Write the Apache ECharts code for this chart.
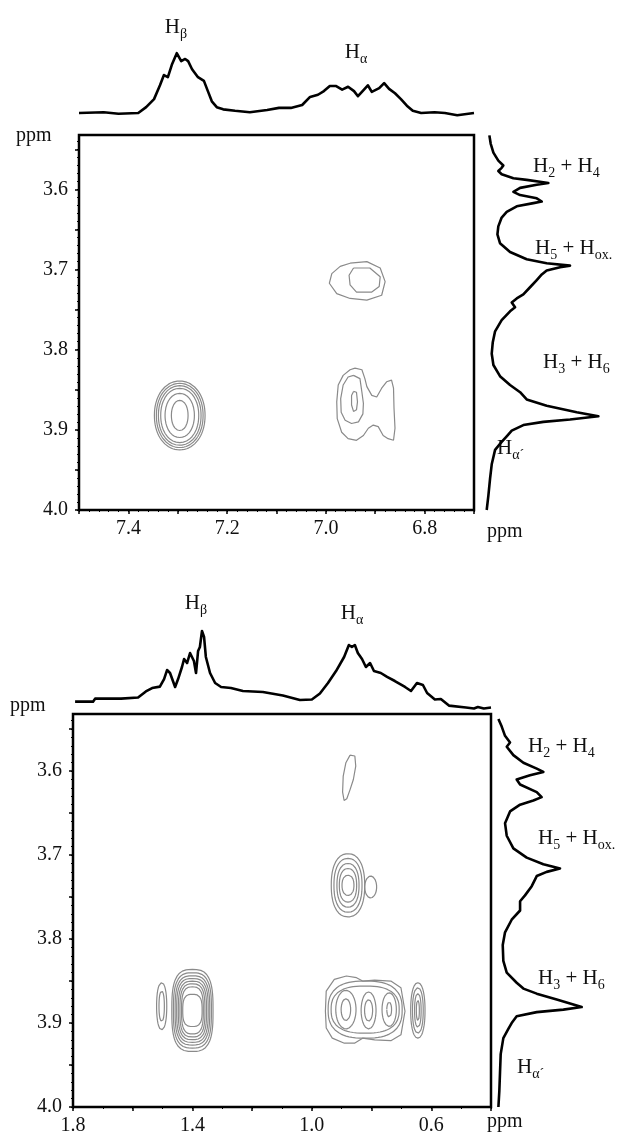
<!DOCTYPE html>
<html><head><meta charset="utf-8">
<script src="https://cdn.jsdelivr.net/npm/echarts@6/dist/echarts.min.js"></script>
<style>html,body{margin:0;padding:0;background:#fff}#c{width:632px;height:1145px}</style>
</head><body><div id="c"></div>
<script>
// ================= DATA =================
// tick labels
const topXLabels = [7.4, 7.2, 7.0, 6.8];
const topXTicks = [6.7, 6.8, 6.9, 7.0, 7.1, 7.2, 7.3, 7.4, 7.5];
const botXLabels = [1.8, 1.4, 1.0, 0.6];
const botXTicks = [0.4, 0.6, 0.8, 1.0, 1.2, 1.4, 1.6, 1.8];
const yLabels = [3.6, 3.7, 3.8, 3.9, 4.0];
const yTicks = [3.55, 3.6, 3.65, 3.7, 3.75, 3.8, 3.85, 3.9, 3.95, 4.0];

// top panel: 1D projection along F2 (ppm, intensity)
const topProjX = [[7.500,0.00],[7.450,0.01],[7.420,-0.01],[7.380,0.00],[7.364,0.08],[7.348,0.19],[7.336,0.38],[7.328,0.52],[7.320,0.49],[7.312,0.66],[7.302,0.82],[7.293,0.71],[7.285,0.74],[7.279,0.71],[7.271,0.60],[7.259,0.49],[7.247,0.44],[7.239,0.30],[7.231,0.16],[7.221,0.08],[7.208,0.05],[7.184,0.03],[7.154,0.01],[7.119,0.04],[7.095,0.07],[7.071,0.07],[7.048,0.11],[7.032,0.22],[7.016,0.25],[7.004,0.30],[6.992,0.37],[6.980,0.37],[6.967,0.32],[6.955,0.36],[6.943,0.30],[6.935,0.23],[6.927,0.29],[6.915,0.38],[6.907,0.29],[6.892,0.34],[6.882,0.41],[6.872,0.33],[6.860,0.27],[6.848,0.19],[6.836,0.10],[6.824,0.03],[6.807,0.00],[6.780,0.01],[6.759,0.00],[6.734,-0.03],[6.700,0.00]];
// top panel: 1D projection along F1 (ppm, intensity)
const topProjY = [[3.5325,0.024],[3.543,0.036],[3.554,0.06],[3.564,0.104],[3.570,0.149],[3.573,0.134],[3.577,0.104],[3.581,0.134],[3.586,0.239],[3.588,0.358],[3.591,0.507],[3.592,0.552],[3.594,0.448],[3.598,0.299],[3.603,0.239],[3.607,0.299],[3.611,0.448],[3.615,0.493],[3.617,0.418],[3.621,0.269],[3.628,0.179],[3.635,0.134],[3.646,0.104],[3.656,0.096],[3.667,0.119],[3.678,0.209],[3.687,0.358],[3.692,0.537],[3.695,0.746],[3.697,0.657],[3.701,0.537],[3.706,0.493],[3.713,0.448],[3.722,0.388],[3.731,0.328],[3.736,0.269],[3.741,0.224],[3.747,0.254],[3.752,0.209],[3.763,0.134],[3.777,0.075],[3.791,0.054],[3.805,0.045],[3.819,0.06],[3.833,0.119],[3.844,0.209],[3.853,0.299],[3.862,0.358],[3.870,0.537],[3.878,0.806],[3.883,1.0],[3.887,0.746],[3.890,0.507],[3.894,0.328],[3.901,0.224],[3.908,0.179],[3.915,0.134],[3.925,0.075],[3.943,0.045],[3.961,0.03],[3.982,0.015],[4.0,0.0]];

// bottom panel projections
const botProjX = [[1.793,0.093],[1.733,0.093],[1.726,0.126],[1.639,0.126],[1.582,0.139],[1.556,0.206],[1.535,0.244],[1.509,0.26],[1.495,0.344],[1.485,0.444],[1.475,0.411],[1.458,0.256],[1.448,0.344],[1.435,0.478],[1.428,0.567],[1.418,0.522],[1.408,0.633],[1.395,0.544],[1.388,0.411],[1.381,0.656],[1.375,0.70],[1.368,0.878],[1.361,0.811],[1.355,0.589],[1.341,0.411],[1.324,0.30],[1.304,0.256],[1.271,0.244],[1.231,0.211],[1.164,0.20],[1.097,0.161],[1.040,0.111],[1.000,0.117],[0.973,0.183],[0.946,0.30],[0.919,0.433],[0.892,0.589],[0.876,0.722],[0.866,0.70],[0.856,0.722],[0.846,0.633],[0.832,0.567],[0.819,0.478],[0.805,0.522],[0.792,0.433],[0.769,0.411],[0.748,0.367],[0.722,0.322],[0.688,0.256],[0.668,0.211],[0.648,0.30],[0.628,0.278],[0.614,0.189],[0.588,0.117],[0.568,0.122],[0.541,0.049],[0.484,0.027],[0.457,0.017],[0.444,0.033],[0.424,0.017],[0.400,0.027]];
const botProjY = [[3.538,0.02],[3.547,0.059],[3.558,0.098],[3.566,0.157],[3.571,0.118],[3.581,0.196],[3.590,0.314],[3.597,0.471],[3.601,0.549],[3.605,0.392],[3.610,0.235],[3.616,0.275],[3.625,0.471],[3.631,0.529],[3.635,0.431],[3.640,0.275],[3.648,0.157],[3.662,0.098],[3.677,0.118],[3.692,0.196],[3.703,0.353],[3.711,0.549],[3.716,0.745],[3.720,0.588],[3.725,0.471],[3.737,0.412],[3.748,0.333],[3.755,0.275],[3.766,0.275],[3.777,0.176],[3.792,0.098],[3.807,0.071],[3.826,0.078],[3.840,0.118],[3.852,0.235],[3.859,0.314],[3.865,0.471],[3.872,0.706],[3.881,1.0],[3.884,0.784],[3.887,0.471],[3.892,0.235],[3.900,0.176],[3.907,0.137],[3.918,0.078],[3.937,0.047],[3.959,0.039],[3.981,0.031],[4.0,0.02]];

// ---- contour levels (ppm) ----
const topPeakA = {c:[7.296,3.882], rx:[0.0513,0.0473,0.0432,0.0385,0.0297,0.0169], ry:[0.0429,0.0400,0.0371,0.0338,0.0275,0.0188], p:2.1};
const topPeakBOuter = [[6.951,3.692],[6.917,3.690],[6.890,3.698],[6.880,3.715],[6.887,3.732],[6.917,3.738],[6.951,3.736],[6.978,3.730],[6.993,3.717],[6.988,3.705],[6.971,3.696]];
const topPeakBInner = [[6.944,3.698],[6.911,3.698],[6.890,3.709],[6.892,3.721],[6.907,3.728],[6.938,3.728],[6.951,3.719],[6.953,3.707]];
const topPeakCOuter = [[6.941,3.823],[6.927,3.825],[6.921,3.836],[6.917,3.846],[6.907,3.857],[6.897,3.859],[6.887,3.848],[6.877,3.840],[6.867,3.838],[6.863,3.848],[6.862,3.873],[6.860,3.898],[6.863,3.913],[6.874,3.911],[6.884,3.907],[6.894,3.896],[6.904,3.894],[6.914,3.898],[6.924,3.907],[6.938,3.913],[6.955,3.911],[6.968,3.903],[6.977,3.886],[6.978,3.865],[6.975,3.844],[6.965,3.832],[6.951,3.825]];
const topPeakCMid = [[6.944,3.832],[6.931,3.836],[6.927,3.853],[6.924,3.867],[6.925,3.880],[6.934,3.890],[6.948,3.892],[6.961,3.888],[6.969,3.878],[6.970,3.861],[6.965,3.844],[6.955,3.834]];
const topPeakCInner = [[6.944,3.852],[6.938,3.853],[6.936,3.865],[6.938,3.875],[6.944,3.877],[6.948,3.869],[6.948,3.857]];

const botPeakThin = [[0.872,3.581],[0.856,3.582],[0.853,3.594],[0.861,3.610],[0.872,3.622],[0.883,3.633],[0.892,3.635],[0.897,3.625],[0.895,3.606],[0.886,3.590]];
const botPeakMid = {c:[0.879,3.736], rx:[0.056,0.047,0.037,0.029,0.020], ry:[0.0376,0.032,0.026,0.020,0.012], p:2.3};
const botPeakMidLobe = {c:[0.803,3.738], rx:[0.020], ry:[0.013], p:2};
const botPeakLeftSmall = {c:[1.503,3.880], rx:[0.017,0.009], ry:[0.028,0.018], p:2.2};
const botPeakBarrel = {c:[1.400,3.885], rx:[0.069,0.0636,0.058,0.0528,0.0473,0.0419,0.0365,0.0325], ry:[0.0488,0.0448,0.0412,0.038,0.0348,0.0316,0.028,0.0192], p:3};
const botPeakMergedOuter = [[0.9546,3.886],[0.9519,3.862],[0.9248,3.848],[0.8842,3.844],[0.8504,3.846],[0.8301,3.850],[0.7895,3.849],[0.7354,3.850],[0.7016,3.858],[0.6881,3.886],[0.7016,3.914],[0.7354,3.921],[0.7895,3.920],[0.8301,3.918],[0.8572,3.924],[0.8910,3.924],[0.9316,3.918],[0.9519,3.906]];
const botPeakMerged = {c:[0.8215,3.884], rx:[0.124,0.114], ry:[0.034,0.028], p:2.6};
const botPeakMergedL = {c:[0.886,3.884], rx:[0.034,0.016], ry:[0.023,0.013], p:2};
const botPeakMergedM = {c:[0.810,3.885], rx:[0.025,0.0135], ry:[0.022,0.0128], p:2};
const botPeakMergedR = {c:[0.741,3.884], rx:[0.024,0.008], ry:[0.020,0.009], p:2};
const botPeakFarRight = {c:[0.645,3.885], rx:[0.024,0.018,0.011,0.005], ry:[0.033,0.027,0.020,0.012], p:2.2};

// ================= CHART =================
const FONT = 'Liberation Serif';
const INK = '#111';
const CONTOUR = '#8a8a8a';

function ringPts(c, rx, ry, p, n) {
  const pts = []; const e = 2 / p;
  for (let i = 0; i <= n; i++) {
    const t = 2 * Math.PI * i / n, ct = Math.cos(t), st = Math.sin(t);
    pts.push([c[0] + rx * Math.sign(ct) * Math.pow(Math.abs(ct), e),
              c[1] + ry * Math.sign(st) * Math.pow(Math.abs(st), e)]);
  }
  return pts;
}
const closed = l => l.concat([l[0]]);
function contour(pts, ax, smooth) {
  return {type:'line', xAxisIndex:ax, yAxisIndex:ax, data:pts, symbol:'none', showSymbol:false, smooth: smooth || false,
    lineStyle:{color:CONTOUR, width:1.2}, silent:true, z:3};
}
function peakSeries(pk, ax) {
  return pk.rx.map((r, i) => contour(ringPts(pk.c, r, pk.ry[i], pk.p, 72), ax));
}
function proj(data, xi, yi, swap) {
  return {type:'line', xAxisIndex:xi, yAxisIndex:yi, data: swap ? data.map(d => [d[1], d[0]]) : data,
    symbol:'none', showSymbol:false, lineStyle:{color:'#000', width:2.6, join:'round'}, silent:true, z:4};
}
const fmt = v => Number(v).toFixed(1);
const range = (a, b, s) => { const r = []; for (let v = a; v <= b + 1e-9; v += s) r.push(Number(v.toFixed(3))); return r; };

function mainX(grid, min, max, ticks, labels) {
  return {type:'value', gridIndex:grid, min, max, inverse:true, position:'bottom',
    axisLine:{show:true, onZero:false, lineStyle:{color:'#000', width:2}},
    axisTick:{show:true, length:4, customValues:ticks, lineStyle:{color:'#000', width:1.5}},
    axisLabel:{show:true, customValues:labels, formatter:fmt, margin:9, color:INK, fontFamily:FONT, fontSize:20},
    splitLine:{show:false}};
}
function minorX(grid, min, max, ticks) {
  return {type:'value', gridIndex:grid, min, max, inverse:true, position:'bottom',
    axisLine:{show:false, onZero:false}, axisTick:{show:true, length:2, customValues:ticks, lineStyle:{color:'#000', width:1}},
    axisLabel:{show:false}, splitLine:{show:false}};
}
function mainY(grid) {
  return {type:'value', gridIndex:grid, min:3.532, max:4.0, inverse:true, position:'left',
    axisLine:{show:true, onZero:false, lineStyle:{color:'#000', width:2}},
    axisTick:{show:true, length:4, customValues:yTicks, lineStyle:{color:'#000', width:1.5}},
    axisLabel:{show:true, customValues:yLabels, formatter:fmt, margin:11, color:INK, fontFamily:FONT, fontSize:20},
    splitLine:{show:false}};
}
function minorY(grid) {
  return {type:'value', gridIndex:grid, min:3.532, max:4.0, inverse:true, position:'left',
    axisLine:{show:false, onZero:false}, axisTick:{show:true, length:2, customValues:range(3.54, 4.0, 0.01), lineStyle:{color:'#000', width:1}},
    axisLabel:{show:false}, splitLine:{show:false}};
}
const hid = (grid, min, max, inv) => ({type:'value', gridIndex:grid, min, max, inverse:!!inv, show:false, splitLine:{show:false}});

const RICH = {
  h:{fontSize:21, fontFamily:FONT, fill:INK, verticalAlign:'top'},
  s:{fontSize:14, fontFamily:FONT, fill:INK, verticalAlign:'bottom', padding:[10,0,0,0]}
};
function lbl(x, y, text, align) {
  return {type:'text', x, y, silent:true, style:{text, align:align || 'left', verticalAlign:'top', fill:INK,
    fontSize:21, fontFamily:FONT, rich:RICH}};
}
function plain(x, y, text) {
  return {type:'text', x, y, silent:true, style:{text, align:'left', verticalAlign:'top', fill:INK, fontSize:20, fontFamily:FONT}};
}

const series = [];
series.push(...peakSeries(topPeakA, 0));
[topPeakBOuter, topPeakBInner, topPeakCOuter, topPeakCMid, topPeakCInner].forEach(l => series.push(contour(closed(l), 0)));
series.push(contour(closed(botPeakThin), 4));
series.push(contour(closed(botPeakMergedOuter), 4));
[botPeakMid, botPeakMidLobe, botPeakLeftSmall, botPeakBarrel, botPeakMerged, botPeakMergedL, botPeakMergedM, botPeakMergedR, botPeakFarRight]
  .forEach(pk => series.push(...peakSeries(pk, 4)));
series.push(proj(topProjX, 2, 2, false));
series.push(proj(topProjY, 3, 3, true));
series.push(proj(botProjX, 6, 6, false));
series.push(proj(botProjY, 7, 7, true));

const option = {
  animation:false,
  backgroundColor:'#fff',
  grid:[
    {left:79, top:135, width:395, height:375, show:true, borderColor:'#000', borderWidth:2.5},
    {left:79, top:40, width:395, height:80.3, show:false},
    {left:486.7, top:135, width:111.7, height:375, show:false},
    {left:73, top:714, width:418, height:393, show:true, borderColor:'#000', borderWidth:2.5},
    {left:73, top:620, width:418, height:90, show:false},
    {left:496.7, top:714, width:85, height:393, show:false}
  ],
  xAxis:[
    mainX(0, 6.7, 7.5, topXTicks, topXLabels),
    minorX(0, 6.7, 7.5, range(6.7, 7.5, 0.02)),
    hid(1, 6.7, 7.5, true),
    hid(2, 0, 1),
    mainX(3, 0.4, 1.8, botXTicks, botXLabels),
    minorX(3, 0.4, 1.8, range(0.4, 1.8, 0.1)),
    hid(4, 0.4, 1.8, true),
    hid(5, 0, 1)
  ],
  yAxis:[
    mainY(0), minorY(0),
    hid(1, -0.1, 1),
    hid(2, 3.532, 4.0, true),
    mainY(3), minorY(3),
    hid(4, 0, 1),
    hid(5, 3.532, 4.0, true)
  ],
  series,
  graphic:[
    lbl(176, 17, '{h|H}{s|β}', 'center'),
    lbl(356, 42, '{h|H}{s|α}', 'center'),
    plain(16, 126, 'ppm'),
    plain(487, 522, 'ppm'),
    lbl(533, 156, '{h|H}{s|2}{h| + H}{s|4}'),
    lbl(535, 238, '{h|H}{s|5}{h| + H}{s|ox.}'),
    lbl(543, 352, '{h|H}{s|3}{h| + H}{s|6}'),
    lbl(497, 438, '{h|H}{s|α´}'),
    lbl(196, 593, '{h|H}{s|β}', 'center'),
    lbl(352, 603, '{h|H}{s|α}', 'center'),
    plain(10, 696, 'ppm'),
    plain(487, 1112, 'ppm'),
    lbl(528, 736, '{h|H}{s|2}{h| + H}{s|4}'),
    lbl(538, 828, '{h|H}{s|5}{h| + H}{s|ox.}'),
    lbl(538, 968, '{h|H}{s|3}{h| + H}{s|6}'),
    lbl(517, 1057, '{h|H}{s|α´}')
  ]
};
const chart = echarts.init(document.getElementById('c'), null, {renderer:'canvas'});
chart.setOption(option);
</script>
</body></html>
